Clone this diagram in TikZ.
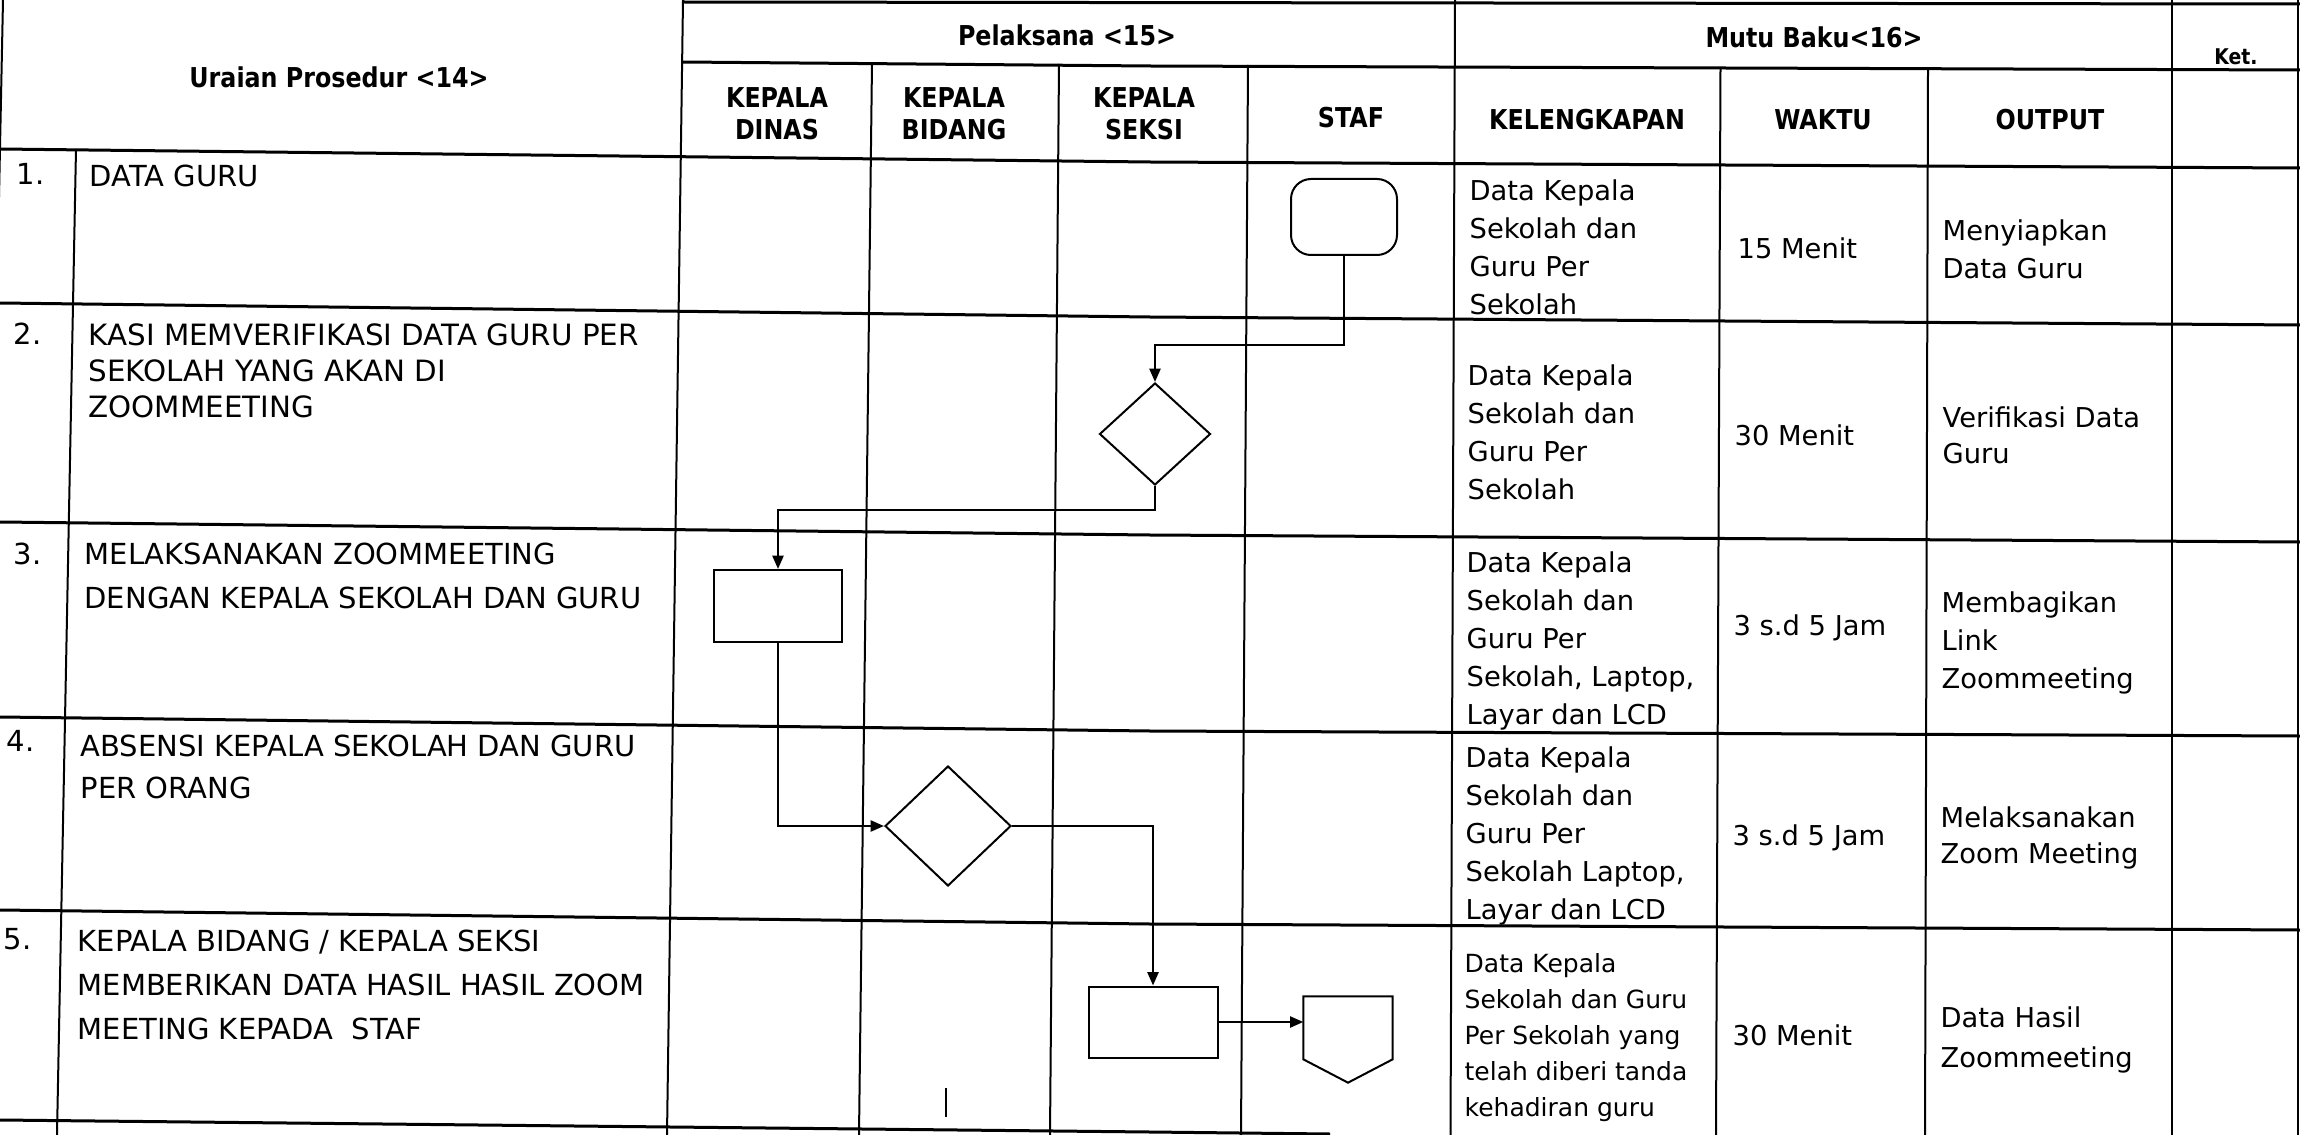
\documentclass[tikz,border=0pt]{standalone}
\usepackage{fontspec}
\setmainfont{DejaVu Sans}
\newfontfamily\hdfont{DejaVu Sans}[FakeStretch=0.87]
\usetikzlibrary{shapes.geometric,arrows.meta,calc}
\newcommand\fl{\rule{0pt}{9pt}}
\begin{document}
\begin{tikzpicture}[x=0.3pt,y=-0.3pt,
  hline/.style={line width=0.9pt},
  vline/.style={line width=0.6pt},
  hd/.style={font=\hdfont\bfseries\fontsize{8.2}{9.6}\selectfont, align=center, inner sep=0pt},
  ur/.style={font=\fontsize{8.7}{13.2}\selectfont, align=left, anchor=north west, inner sep=0pt},
  mb/.style={font=\fontsize{8.2}{11.4}\selectfont, align=left, anchor=north west, inner sep=0pt},
  shp/.style={draw, line width=0.6pt, inner sep=0pt},
  conn/.style={line width=0.7pt, -{Triangle[length=4pt,width=3.3pt]}},
]
\fill[white] (0,0) rectangle (2300,1135);
\useasboundingbox (0,0) rectangle (2300,1135);

% ---- table: horizontal lines (scan is slightly skewed)
\draw[hline] (682,2) -- (2300,4);
\draw[hline] (682,62) -- (1150,66) -- (2300,70);
\draw[hline] (0,149) -- (1150,162) -- (2300,168);
\draw[hline] (0,303) -- (1150,317) -- (2300,325);
\draw[hline] (0,522) -- (1150,535) -- (2300,542);
\draw[hline] (0,717) -- (1150,731) -- (2300,736);
\draw[hline] (0,910) -- (1150,924) -- (2300,930);
\draw[hline] (0,1120) -- (1150,1132) -- (1330,1134);
% ---- table: vertical lines
\draw[vline] (3,0) -- (-20,1135);
\draw[vline] (76,149) -- (57,1135);
\draw[vline] (683,0) -- (667,1135);
\draw[vline] (872,63) -- (859,1135);
\draw[vline] (1059,64) -- (1050,1135);
\draw[vline] (1248,65) -- (1241,1135);
\draw[vline] (1455,0) -- (1450.5,1135);
\draw[vline] (1720.5,67) -- (1716,1135);
\draw[vline] (1928,68) -- (1925,1135);
\draw[vline] (2171.6,0) -- (2171.6,1135);
\draw[vline] (2298,0) -- (2298,1135);

% ---- headers
\node[hd] (h1) at (339,77) {Uraian Prosedur <14>};
\node[hd] (h2) at (1067,35) {Pelaksana <15>};
\node[hd] (h3) at (1814,37) {Mutu Baku<16>};
\node[hd, font=\hdfont\bfseries\fontsize{6.5}{8}\selectfont] (h4) at (2236,57) {Ket.};
\node[hd] (h5) at (777,114) {KEPALA\\DINAS};
\node[hd] (h6) at (954,114) {KEPALA\\BIDANG};
\node[hd] (h7) at (1144,114) {KEPALA\\SEKSI};
\node[hd] (h8) at (1351,118) {STAF};
\node[hd] (h9) at (1587,120) {KELENGKAPAN};
\node[hd] (h10) at (1823,120) {WAKTU};
\node[hd] (h11) at (2050,120) {OUTPUT};

% ---- Uraian prosedur
\node[ur] (n1) at (16,153.6) {\fl 1.};
\node[ur] (u1) at (89,155.6) {\fl DATA GURU};
\node[ur] (n2) at (13,313.6) {\fl 2.};
\node[ur, font=\fontsize{8.8}{10.8}\selectfont] (u2) at (88,314.6) {\fl KASI MEMVERIFIKASI DATA GURU PER\\SEKOLAH YANG AKAN DI\\ZOOMMEETING};
\node[ur] (n3) at (13,533.6) {\fl 3.};
\node[ur] (u3) at (84,533.6) {\fl MELAKSANAKAN ZOOMMEETING\\DENGAN KEPALA SEKOLAH DAN GURU};
\node[ur] (n4) at (6,720.6) {\fl 4.};
\node[ur, font=\fontsize{8.7}{12.6}\selectfont] (u4) at (80,725.6) {\fl ABSENSI KEPALA SEKOLAH DAN GURU\\PER ORANG};
\node[ur] (n5) at (3,918.6) {\fl 5.};
\node[ur] (u5) at (77,920.6) {\fl KEPALA BIDANG / KEPALA SEKSI\\MEMBERIKAN DATA HASIL HASIL ZOOM\\MEETING KEPADA\ \ STAF};

% ---- Kelengkapan
\node[mb] (kl1) at (1469,170) {\fl Data Kepala\\Sekolah dan\\Guru Per\\Sekolah};
\node[mb] (kl2) at (1467,355) {\fl Data Kepala\\Sekolah dan\\Guru Per\\Sekolah};
\node[mb] (kl3) at (1466,542) {\fl Data Kepala\\Sekolah dan\\Guru Per\\Sekolah, Laptop,\\Layar dan LCD};
\node[mb] (kl4) at (1465,737) {\fl Data Kepala\\Sekolah dan\\Guru Per\\Sekolah Laptop,\\Layar dan LCD};
\node[mb, font=\fontsize{7.5}{10.8}\selectfont] (kl5) at (1464,942) {\fl Data Kepala\\Sekolah dan Guru\\Per Sekolah yang\\telah diberi tanda\\kehadiran guru};

% ---- Waktu
\node[mb] (w1) at (1737,228) {\fl 15 Menit};
\node[mb] (w2) at (1734,415) {\fl 30 Menit};
\node[mb] (w3) at (1733,605) {\fl 3 s.d 5 Jam};
\node[mb] (w4) at (1732,815) {\fl 3 s.d 5 Jam};
\node[mb] (w5) at (1732,1015) {\fl 30 Menit};

% ---- Output
\node[mb] (o1) at (1942,210) {\fl Menyiapkan\\Data Guru};
\node[mb, font=\fontsize{8.2}{10.8}\selectfont] (o2) at (1942,397) {\fl Verifikasi Data\\Guru};
\node[mb] (o3) at (1941,582) {\fl Membagikan\\Link\\Zoommeeting};
\node[mb, font=\fontsize{8.2}{10.8}\selectfont] (o4) at (1940,797) {\fl Melaksanakan\\Zoom Meeting};
\node[mb, font=\fontsize{8.2}{12}\selectfont] (o5) at (1940,997) {\fl Data Hasil\\Zoommeeting};

% ---- flowchart shapes
\node[shp, rectangle, rounded corners=6pt, minimum width=31.8pt, minimum height=22.8pt] (term) at (1344,217) {};
\node[shp, diamond, minimum width=33.3pt, minimum height=30.6pt] (dia1) at (1155,434) {};
\node[shp, rectangle, minimum width=38.4pt, minimum height=21.6pt] (rect1) at (778,606) {};
\node[shp, diamond, minimum width=37.8pt, minimum height=36pt] (dia2) at (948,826) {};
\node[shp, rectangle, minimum width=38.7pt, minimum height=21.3pt] (rect2) at (1153,1022) {};
\node[inner sep=0pt, minimum width=26.4pt, minimum height=25.5pt] (off) at (1348,1039.5) {};
\draw[line width=0.6pt] (off.north west) -- (off.north east) -- ++(0,63) -- (off.south) -- ($(off.north west)+(0,63)$) -- cycle;

% ---- connectors
\coordinate (j1) at (0,345);
\coordinate (j2) at (0,510);
\draw[conn] (term.south) -- (term.south |- j1) -| (dia1.north);
\draw[conn] (dia1.south) -- (dia1.south |- j2) -| (rect1.north);
\draw[conn] (rect1.south) |- (dia2.west);
\draw[conn] (dia2.east) -| (rect2.north);
\draw[conn] (rect2.east) -- (rect2.east -| off.west);
\coordinate (s1) at (946,1088);
\coordinate (s2) at (946,1117);
\draw[vline] (s1) -- (s2);
\end{tikzpicture}
\end{document}
